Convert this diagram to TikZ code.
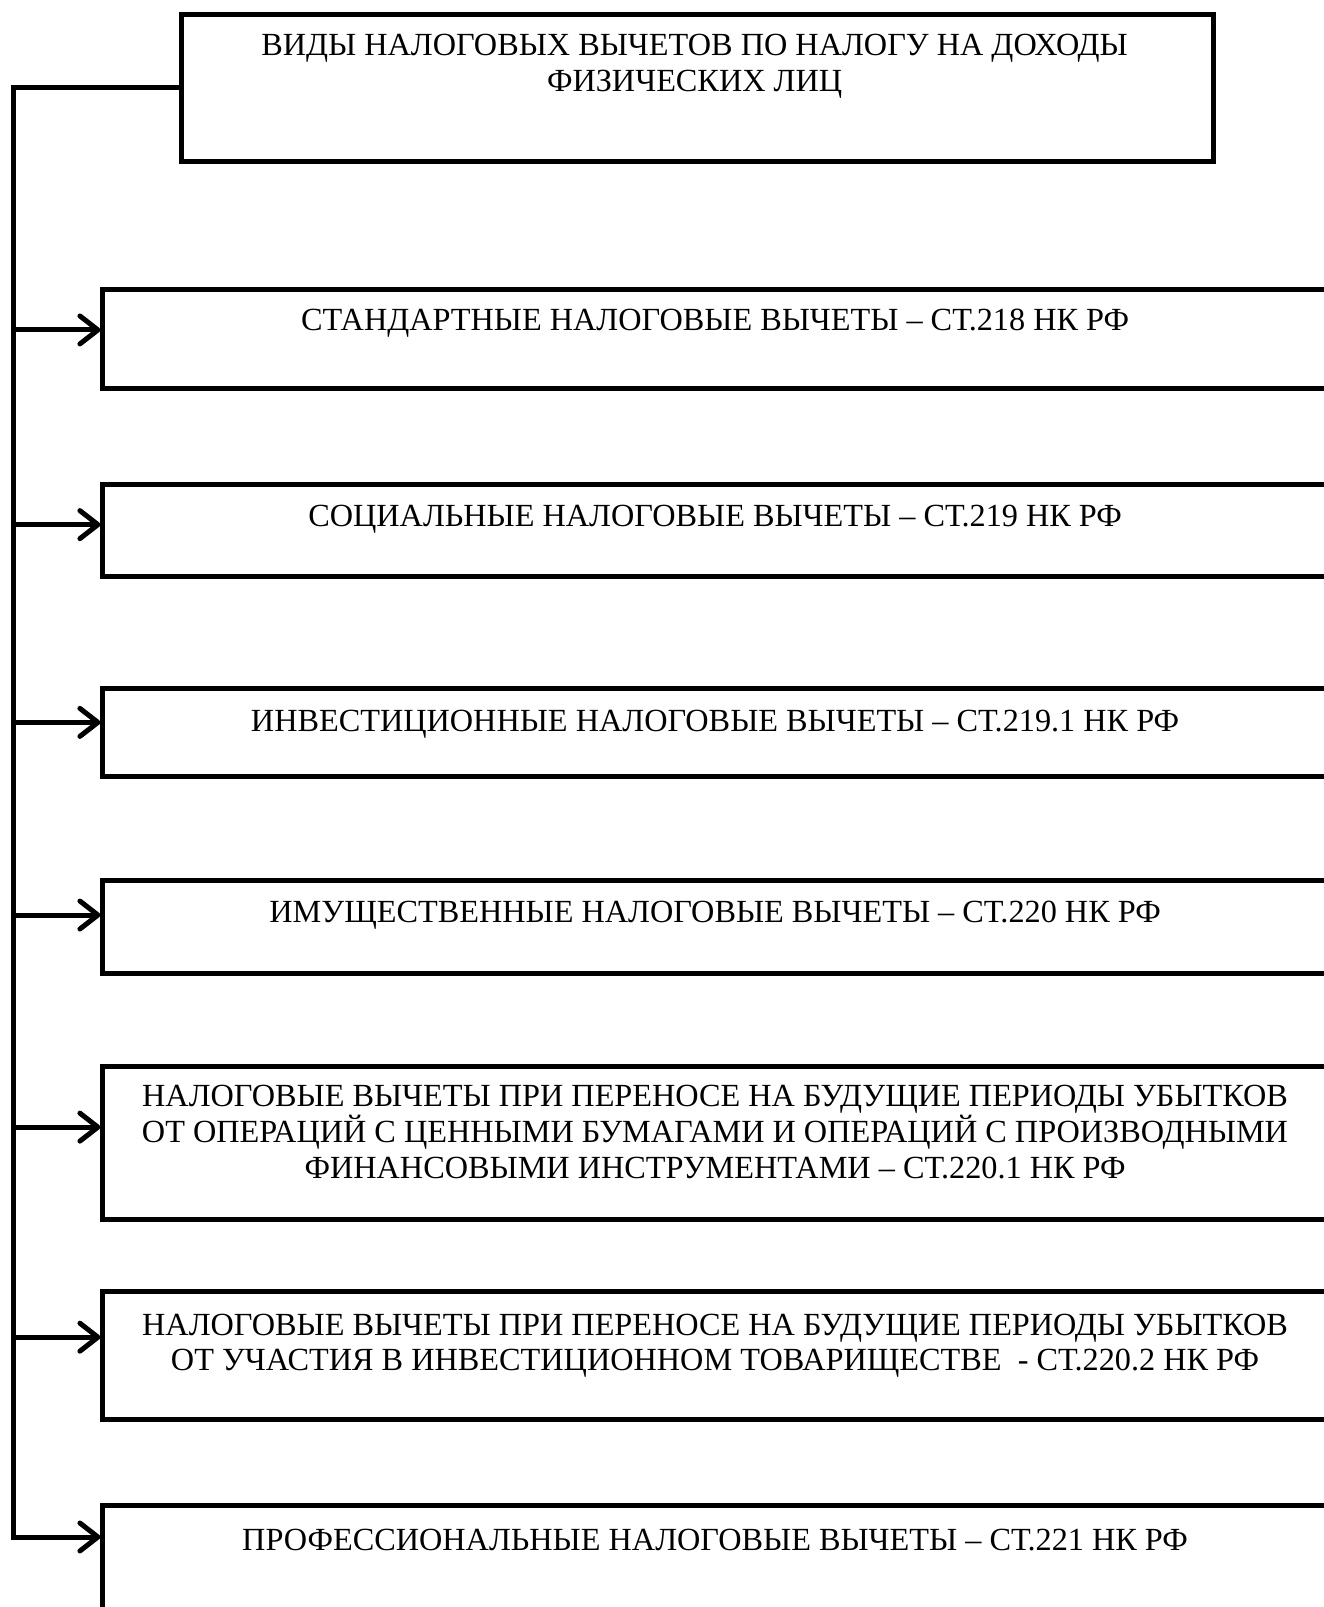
\documentclass[tikz,border=0pt]{standalone}
\usepackage{fontspec}
\setmainfont{Liberation Serif}
\usetikzlibrary{arrows.meta}
\begin{document}
\begin{tikzpicture}[x=1pt, y=-1pt, scale=1.0245, every node/.style={transform shape},
  frame/.style={draw, line width=5pt, inner sep=0pt, anchor=north west, minimum width=1260pt},
  caption/.style={align=center, font=\fontsize{31.5}{35}\selectfont, inner sep=0pt},
  conn/.style={line width=5pt},
  arr/.style={conn, -{Straight Barb[length=18pt, width=28pt, line width=5pt, round]}}]
\def\boxleft{98}
\def\textx{698}

% HEAD
\node [draw, line width=5pt, inner sep=0pt, anchor=north west, minimum width=1007pt, minimum height=143pt] (head) at (175,12) {};
\node [caption] (headtext) at (678,65) {ВИДЫ НАЛОГОВЫХ ВЫЧЕТОВ ПО НАЛОГУ НА ДОХОДЫ\\ФИЗИЧЕСКИХ ЛИЦ};
\coordinate (spine) at (13,85);

% KINDS OF DEDUCTIONS
\node [frame, minimum height=97pt] (std) at (\boxleft,280) {};
\node [caption] (stdtext) at (\textx,315) {СТАНДАРТНЫЕ НАЛОГОВЫЕ ВЫЧЕТЫ – СТ.218 НК РФ};

\node [frame, minimum height=90pt] (soc) at (\boxleft,470) {};
\node [caption] (soctext) at (\textx,506.5) {СОЦИАЛЬНЫЕ НАЛОГОВЫЕ ВЫЧЕТЫ – СТ.219 НК РФ};

\node [frame, minimum height=85pt] (inv) at (\boxleft,670) {};
\node [caption] (invtext) at (\textx,707) {ИНВЕСТИЦИОННЫЕ НАЛОГОВЫЕ ВЫЧЕТЫ – СТ.219.1 НК РФ};

\node [frame, minimum height=91pt] (prop) at (\boxleft,857) {};
\node [caption] (proptext) at (\textx,893) {ИМУЩЕСТВЕННЫЕ НАЛОГОВЫЕ ВЫЧЕТЫ – СТ.220 НК РФ};

\node [frame, minimum height=150pt] (sec) at (\boxleft,1038) {};
\node [caption] (sectext) at (\textx,1105) {НАЛОГОВЫЕ ВЫЧЕТЫ ПРИ ПЕРЕНОСЕ НА БУДУЩИЕ ПЕРИОДЫ УБЫТКОВ\\ОТ ОПЕРАЦИЙ С ЦЕННЫМИ БУМАГАМИ И ОПЕРАЦИЙ С ПРОИЗВОДНЫМИ\\ФИНАНСОВЫМИ ИНСТРУМЕНТАМИ – СТ.220.1 НК РФ};

\node [frame, minimum height=125pt] (part) at (\boxleft,1258) {};
\node [caption] (parttext) at (\textx,1313.5) {НАЛОГОВЫЕ ВЫЧЕТЫ ПРИ ПЕРЕНОСЕ НА БУДУЩИЕ ПЕРИОДЫ УБЫТКОВ\\ОТ УЧАСТИЯ В ИНВЕСТИЦИОННОМ ТОВАРИЩЕСТВЕ~ - СТ.220.2 НК РФ};

\node [frame, minimum height=170pt] (prof) at (\boxleft,1467) {};
\node [caption] (proftext) at (\textx,1503) {ПРОФЕССИОНАЛЬНЫЕ НАЛОГОВЫЕ ВЫЧЕТЫ – СТ.221 НК РФ};

% CONNECTORS
\coordinate (a1) at (\boxleft,322);
\coordinate (a2) at (\boxleft,512);
\coordinate (a3) at (\boxleft,705);
\coordinate (a4) at (\boxleft,893);
\coordinate (a5) at (\boxleft,1100);
\coordinate (a6) at (\boxleft,1305);
\coordinate (a7) at (\boxleft,1500);
\draw [arr] (head.west |- spine) -- (spine) -- (spine |- a7) -- (a7);
\foreach \a in {a1,a2,a3,a4,a5,a6}
  \draw [arr] (spine |- \a) -- (\a);

% page = reference size, boxes run off the right and bottom edges
\pgfresetboundingbox
\useasboundingbox (0,0) rectangle (1292.34,1568.57);
\end{tikzpicture}
\end{document}
